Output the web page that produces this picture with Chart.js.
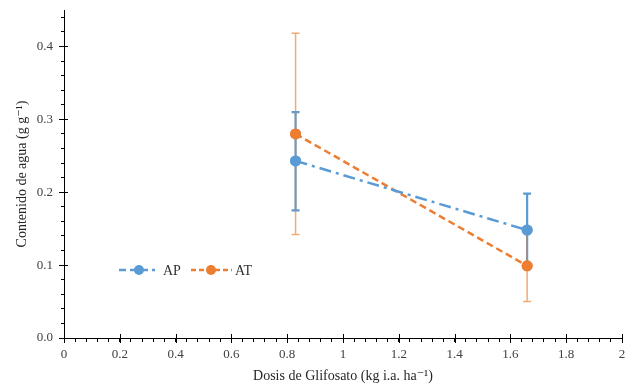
<!DOCTYPE html>
<html>
<head>
<meta charset="utf-8">
<script src="https://cdn.jsdelivr.net/npm/chart.js@4/dist/chart.umd.min.js"></script>
<style>
html,body{margin:0;padding:0;background:#fff;}
#wrap{width:635px;height:385px;position:relative;}
</style>
</head>
<body>
<div id="wrap"><canvas id="c" width="635" height="385"></canvas></div>
<script>
const doses = [0.83, 1.66];
const apValues = [0.243, 0.148];
const apErrLow = [0.175, 0.098];
const apErrHigh = [0.310, 0.198];
const atValues = [0.280, 0.099];
const atErrLow = [0.142, 0.050];
const atErrHigh = [0.418, 0.149];
const seriesNames = ['AP', 'AT'];
const xTitle = 'Dosis de Glifosato (kg i.a. ha\u207B\u00B9)';
const yTitle = 'Contenido de agua (g g\u207B\u00B9)';

const BLUE = '#5B9BD5';
const ORANGE = '#ED7D31';
const FONT = "'Liberation Serif', 'DejaVu Serif', serif";

const toPts = (xs, ys) => xs.map((x, i) => ({x: x, y: ys[i]}));

const errorBars = {
  id: 'errorBars',
  afterDatasetsDraw(chart) {
    const ctx = chart.ctx, xs = chart.scales.x, ys = chart.scales.y;
    const sets = [
      {lo: apErrLow, hi: apErrHigh, color: BLUE, w: 2.2, alpha: 1},
      {lo: atErrLow, hi: atErrHigh, color: ORANGE, w: 1.5, alpha: 0.65}
    ];
    ctx.save();
    sets.forEach(s => {
      ctx.globalAlpha = s.alpha;
      ctx.strokeStyle = s.color;
      ctx.lineWidth = s.w;
      doses.forEach((d, i) => {
        const px = xs.getPixelForValue(d);
        const y1 = ys.getPixelForValue(s.lo[i]);
        const y2 = ys.getPixelForValue(s.hi[i]);
        ctx.beginPath();
        ctx.moveTo(px, y1); ctx.lineTo(px, y2);
        ctx.moveTo(px - 4, y1); ctx.lineTo(px + 4, y1);
        ctx.moveTo(px - 4, y2); ctx.lineTo(px + 4, y2);
        ctx.stroke();
      });
    });
    ctx.restore();
    chart.data.datasets.forEach((ds, di) => {
      const meta = chart.getDatasetMeta(di);
      meta.data.forEach(el => el.draw(ctx));
    });
  }
};

const majorTicks = {
  id: 'majorTicks',
  afterDraw(chart) {
    const ctx = chart.ctx, xs = chart.scales.x, ys = chart.scales.y;
    ctx.save();
    ctx.strokeStyle = '#000';
    ctx.lineWidth = 1;
    ctx.beginPath();
    xs.ticks.forEach(t => {
      if (Math.abs(t.value / 0.2 - Math.round(t.value / 0.2)) < 1e-6) {
        const px = Math.round(xs.getPixelForValue(t.value)) + 0.5;
        ctx.moveTo(px, xs.top - 4); ctx.lineTo(px, xs.top + 5);
      }
    });
    ys.ticks.forEach(t => {
      if (Math.abs(t.value / 0.1 - Math.round(t.value / 0.1)) < 1e-6) {
        const py = Math.round(ys.getPixelForValue(t.value)) + 0.5;
        ctx.moveTo(ys.right - 5, py); ctx.lineTo(ys.right + 4, py);
      }
    });
    ctx.stroke();
    ctx.restore();
  }
};

const legendPlugin = {
  id: 'customLegend',
  afterDraw(chart) {
    const ctx = chart.ctx;
    const items = [
      {name: seriesNames[0], color: BLUE, dash: [7, 4], x0: 119, x1: 155, cx: 139, tx: 163},
      {name: seriesNames[1], color: ORANGE, dash: [5, 3], x0: 191, x1: 232, cx: 211, tx: 235}
    ];
    const y = 270;
    ctx.save();
    items.forEach(it => {
      ctx.strokeStyle = it.color;
      ctx.lineWidth = 2.5;
      ctx.setLineDash(it.dash);
      ctx.beginPath();
      ctx.moveTo(it.x0, y); ctx.lineTo(it.x1, y);
      ctx.stroke();
      ctx.setLineDash([]);
      ctx.fillStyle = it.color;
      ctx.beginPath();
      ctx.arc(it.cx, y, 5, 0, Math.PI * 2);
      ctx.fill();
      ctx.fillStyle = '#333';
      ctx.font = '14px ' + FONT;
      ctx.textBaseline = 'middle';
      ctx.textAlign = 'left';
      ctx.fillText(it.name, it.tx, y + 1);
    });
    ctx.restore();
  }
};

new Chart(document.getElementById('c'), {
  type: 'scatter',
  data: {
    datasets: [
      {
        label: seriesNames[0],
        data: toPts(doses, apValues),
        showLine: true,
        borderColor: BLUE,
        backgroundColor: BLUE,
        borderWidth: 2.5,
        borderDash: [12, 5, 3, 5],
        pointRadius: 5.5,
        pointHoverRadius: 5.5,
        pointBorderWidth: 0
      },
      {
        label: seriesNames[1],
        data: toPts(doses, atValues),
        showLine: true,
        borderColor: ORANGE,
        backgroundColor: ORANGE,
        borderWidth: 2.5,
        borderDash: [7, 4],
        pointRadius: 5.5,
        pointHoverRadius: 5.5,
        pointBorderWidth: 0
      }
    ]
  },
  options: {
    responsive: false,
    animation: false,
    events: [],
    layout: {padding: {top: 10, right: 13, left: 0, bottom: 0}},
    plugins: {legend: {display: false}, tooltip: {enabled: false}},
    scales: {
      x: {
        type: 'linear',
        min: 0, max: 2,
        afterFit(s) { s.height = 47; s.paddingRight = 0; s.paddingLeft = 0; },
        border: {display: true, color: '#000', width: 1},
        grid: {drawOnChartArea: false, drawTicks: true, tickLength: 4, tickColor: '#000'},
        ticks: {
          stepSize: 0.04,
          autoSkip: false,
          maxRotation: 0,
          padding: 5,
          color: '#404040',
          font: {family: FONT, size: 13},
          callback(v) {
            const r = Math.round(v / 0.2);
            if (Math.abs(v / 0.2 - r) < 1e-6) {
              const val = +(r * 0.2).toFixed(1);
              return String(val);
            }
            return '';
          }
        },
        title: {
          display: true,
          text: xTitle,
          color: '#262626',
          font: {family: FONT, size: 14},
          padding: {top: 1, bottom: 0}
        }
      },
      y: {
        type: 'linear',
        min: 0, max: 0.45,
        afterFit(s) { s.width = 64; s.paddingTop = 0; s.paddingBottom = 0; },
        afterBuildTicks(s) {
          const t = [];
          for (let i = 0; i <= 22; i++) t.push({value: +(i * 0.02).toFixed(2)});
          s.ticks = t;
        },
        border: {display: true, color: '#000', width: 1},
        grid: {drawOnChartArea: false, drawTicks: true, tickLength: 3, tickColor: '#000'},
        ticks: {
          autoSkip: false,
          padding: 8,
          color: '#404040',
          font: {family: FONT, size: 13},
          callback(v) {
            const r = Math.round(v / 0.1);
            if (Math.abs(v / 0.1 - r) < 1e-6) return (r * 0.1).toFixed(1);
            return '';
          }
        },
        title: {
          display: true,
          text: yTitle,
          color: '#262626',
          font: {family: FONT, size: 14},
          padding: {top: 14, bottom: 4}
        }
      }
    }
  },
  plugins: [errorBars, majorTicks, legendPlugin]
});
</script>
</body>
</html>
